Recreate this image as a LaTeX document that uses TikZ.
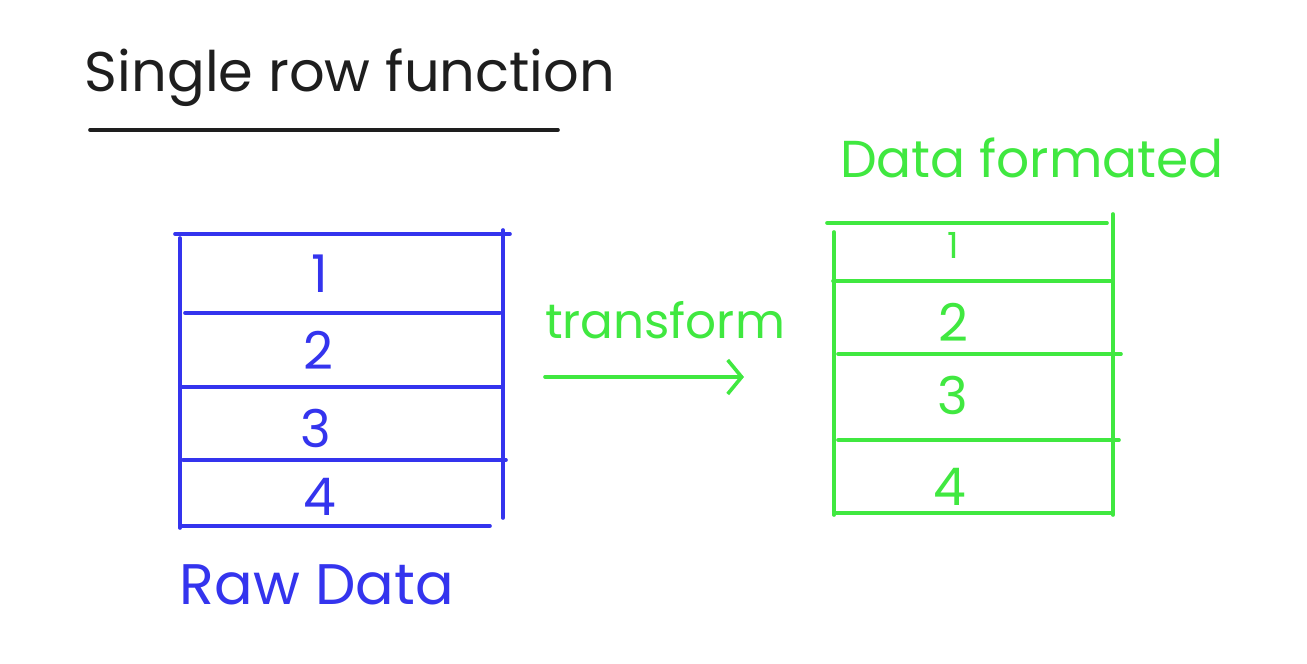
\documentclass[tikz,border=0pt]{standalone}
\usepackage{fontspec}
\setmainfont{Poppins}
\usetikzlibrary{arrows.meta}
\definecolor{blueink}{RGB}{52,52,238}
\definecolor{greenink}{RGB}{64,232,64}
\definecolor{blackink}{RGB}{30,30,30}
\tikzset{
  ink/.style={line width=1.8pt, line cap=round},
  bluetab/.style={ink, draw=blueink},
  greentab/.style={ink, draw=greenink},
  numtxt/.style={font=\fontsize{26}{30}\selectfont\addfontfeature{}, inner sep=0pt},
  lbl/.style={inner sep=0pt, anchor=center},
}
\begin{document}
\begin{tikzpicture}[x=0.5pt,y=-0.5pt]
\useasboundingbox (0,0) rectangle (1307,664);
\fill[white] (0,0) rectangle (1307,664);
% title
\node[lbl, text=blackink] (title) at (350,78) {\resizebox{265pt}{!}{\fontsize{30}{34}\selectfont Single row function}};
\coordinate (ul1) at (90,130);
\coordinate (ul2) at (558,130);
\draw[ink, draw=blackink] (ul1) -- (ul2);
% blue table
\coordinate (b1) at (175,234); \coordinate (b2) at (510,234);
\coordinate (b3) at (180,238); \coordinate (b4) at (180,528);
\coordinate (b5) at (503,230); \coordinate (b6) at (503,518);
\coordinate (b7) at (185,313); \coordinate (b8) at (500,313);
\coordinate (b9) at (180,387); \coordinate (b10) at (503,387);
\coordinate (b11) at (183,460); \coordinate (b12) at (506,460);
\coordinate (b13) at (180,526); \coordinate (b14) at (490,526);
\draw[bluetab] (b1) -- (b2);
\draw[bluetab] (b3) -- (b4);
\draw[bluetab] (b5) -- (b6);
\draw[bluetab] (b7) -- (b8);
\draw[bluetab] (b9) -- (b10);
\draw[bluetab] (b11) -- (b12);
\draw[bluetab] (b13) -- (b14);
\node[numtxt, text=blueink] (bn1) at (320,274) {1};
\node[numtxt, text=blueink] (bn2) at (318,350) {2};
\node[numtxt, text=blueink] (bn3) at (316,428) {3};
\node[numtxt, text=blueink] (bn4) at (320,497) {4};
\node[lbl, text=blueink] (raw) at (317,585) {\resizebox{137pt}{!}{\fontsize{30}{34}\selectfont Raw Data}};
% arrow
\node[lbl, text=greenink] (transform) at (665,320) {\resizebox{120pt}{!}{\fontsize{30}{34}\selectfont transform}};
\coordinate (a1) at (545,377);
\coordinate (a2) at (744,377);
\draw[ink, draw=greenink, -{Straight Barb[length=7pt,width=17pt,line width=1.8pt]}] (a1) -- (a2);
% green table
\node[lbl, text=greenink] (formated) at (1032,158) {\resizebox{192pt}{!}{\fontsize{30}{34}\selectfont Data formated}};
\coordinate (g1) at (827,223); \coordinate (g2) at (1107,223);
\coordinate (g3) at (834,232); \coordinate (g4) at (834,515);
\coordinate (g5) at (1113,214); \coordinate (g6) at (1113,515);
\coordinate (g7) at (833,281); \coordinate (g8) at (1113,281);
\coordinate (g9) at (838,354); \coordinate (g10) at (1121,354);
\coordinate (g11) at (838,440); \coordinate (g12) at (1119,440);
\coordinate (g13) at (835,513); \coordinate (g14) at (1113,513);
\draw[greentab] (g1) -- (g2);
\draw[greentab] (g3) -- (g4);
\draw[greentab] (g5) -- (g6);
\draw[greentab] (g7) -- (g8);
\draw[greentab] (g9) -- (g10);
\draw[greentab] (g11) -- (g12);
\draw[greentab] (g13) -- (g14);
\node[numtxt, text=greenink, font=\fontsize{18}{22}\selectfont] (gn1) at (953,245) {1};
\node[numtxt, text=greenink] (gn2) at (953,322) {2};
\node[numtxt, text=greenink] (gn3) at (953,395) {3};
\node[numtxt, text=greenink] (gn4) at (950,487) {4};
\end{tikzpicture}
\end{document}
